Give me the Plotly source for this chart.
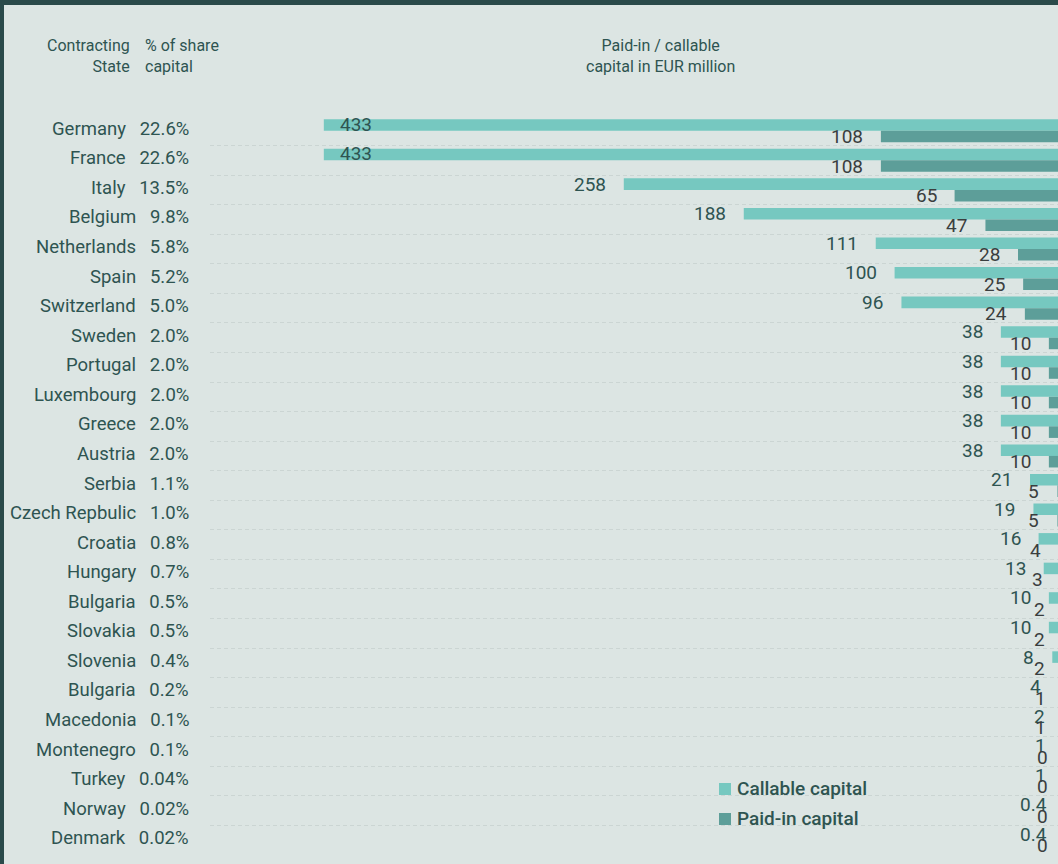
import plotly.graph_objects as go

countries = ["Germany", "France", "Italy", "Belgium", "Netherlands", "Spain", "Switzerland",
             "Sweden", "Portugal", "Luxembourg", "Greece", "Austria", "Serbia", "Czech Repbulic",
             "Croatia", "Hungary", "Bulgaria", "Slovakia", "Slovenia", "Bulgaria", "Macedonia",
             "Montenegro", "Turkey", "Norway", "Denmark"]
share_pct = ["22.6%", "22.6%", "13.5%", "9.8%", "5.8%", "5.2%", "5.0%", "2.0%", "2.0%", "2.0%",
             "2.0%", "2.0%", "1.1%", "1.0%", "0.8%", "0.7%", "0.5%", "0.5%", "0.4%", "0.2%",
             "0.1%", "0.1%", "0.04%", "0.02%", "0.02%"]
callable_cap = [433, 433, 258, 188, 111, 100, 96, 38, 38, 38, 38, 38, 21, 19, 16, 13, 10, 10, 8,
                4, 2, 1, 1, 0.4, 0.4]
paid_in_cap = [108, 108, 65, 47, 28, 25, 24, 10, 10, 10, 10, 10, 5, 5, 4, 3, 2, 2, 2, 1, 1, 0, 0,
               0, 0]

BG = "#dce5e3"
DARK = "#2a4a4a"
C_CALL = "#76c8c0"
C_PAID = "#5d9e99"
TXT = "#2e5451"
TXT_PAID = "#3a3e3e"
FONT = "Roboto"

W, H = 1058, 864
X_RANGE = [499.4, 4.67]          # reversed: bars grow leftwards from beyond the right edge
X_DOM = [210 / W, 1.0]
Y_DOM = [1 - 855 / H, 1 - 116 / H]
n = len(countries)
ypos = list(range(n))

px_per_unit = (X_DOM[1] - X_DOM[0]) * W / (X_RANGE[0] - X_RANGE[1])
GAP = 16 / px_per_unit            # label gap in data units
row_px = (Y_DOM[1] - Y_DOM[0]) * H / n
BAR_SHIFT = row_px * 0.195

fig = go.Figure()
fig.add_trace(go.Bar(y=ypos, x=callable_cap, orientation="h", name="Callable capital",
                     marker=dict(color=C_CALL, line=dict(width=0)), showlegend=False))
fig.add_trace(go.Bar(y=ypos, x=paid_in_cap, orientation="h", name="Paid-in capital",
                     marker=dict(color=C_PAID, line=dict(width=0)), showlegend=False))

def fmt(v):
    return str(int(v)) if float(v).is_integer() else str(v)

NB = "\u00a0"
ann = []
for i in range(n):
    ann.append(dict(xref="paper", yref="y", x=191 / W, y=i, yshift=2, xanchor="right",
                    text=countries[i] + NB * 3 + share_pct[i], showarrow=False,
                    font=dict(family=FONT, size=18.5, color=TXT)))
    v = callable_cap[i]
    if v > 400:
        ann.append(dict(xref="x", yref="y", x=v, y=i, yshift=BAR_SHIFT + 1, xshift=14, xanchor="left",
                        text=fmt(v), showarrow=False, font=dict(family=FONT, size=19, color=TXT)))
    else:
        ann.append(dict(xref="x", yref="y", x=v + GAP, y=i, yshift=BAR_SHIFT, xanchor="right",
                        text=fmt(v), showarrow=False, font=dict(family=FONT, size=19, color=TXT)))
    p = paid_in_cap[i]
    ann.append(dict(xref="x", yref="y", x=p + GAP, y=i, yshift=-BAR_SHIFT, xanchor="right",
                    text=fmt(p), showarrow=False, font=dict(family=FONT, size=19, color=TXT_PAID)))

# headers
hdr = dict(family=FONT, size=16, color=TXT)
ann.append(dict(xref="paper", yref="paper", x=132 / W, y=1 - 34 / H, xanchor="right", yanchor="top",
                align="right", text="Contracting<br>State", showarrow=False, font=hdr))
ann.append(dict(xref="paper", yref="paper", x=143 / W, y=1 - 34 / H, xanchor="left", yanchor="top",
                align="left", text="% of share<br>capital", showarrow=False, font=hdr))
ann.append(dict(xref="paper", yref="paper", x=660 / W, y=1 - 34 / H, xanchor="center", yanchor="top",
                align="center", text="Paid-in / callable<br>capital in EUR million", showarrow=False, font=hdr))

# legend
leg = [("Callable capital", C_CALL, 789), ("Paid-in capital", C_PAID, 819)]
shapes = [
    dict(type="rect", xref="paper", yref="paper", x0=0, x1=1, y0=1 - 5 / H, y1=1,
         fillcolor=DARK, line=dict(width=0), layer="above"),
    dict(type="rect", xref="paper", yref="paper", x0=0, x1=4 / W, y0=0, y1=1,
         fillcolor=DARK, line=dict(width=0), layer="above"),
]
for name, col, yc in leg:
    shapes.append(dict(type="rect", xref="paper", yref="paper", x0=719 / W, x1=731 / W,
                       y0=1 - (yc + 6) / H, y1=1 - (yc - 6) / H, fillcolor=col, line=dict(width=0)))
    ann.append(dict(xref="paper", yref="paper", x=735 / W, y=1 - (yc - 1) / H, xanchor="left",
                    yanchor="middle", text=name, showarrow=False,
                    font=dict(family=FONT, size=19, color=TXT, weight=500)))

fig.update_layout(
    width=W, height=H, margin=dict(l=0, r=0, t=0, b=0),
    paper_bgcolor=BG, plot_bgcolor=BG,
    barmode="group", bargap=0.22, bargroupgap=0,
    annotations=ann, shapes=shapes,
    xaxis=dict(range=X_RANGE, domain=X_DOM, showgrid=False, zeroline=False, showticklabels=False,
               ticks="", showline=False, automargin=False, fixedrange=True),
    yaxis=dict(range=[n - 0.5, -0.5], domain=Y_DOM, tickvals=[k - 0.5 for k in range(n + 1)],
               showgrid=True, gridcolor="#cbd5d3", griddash="4px,3px", gridwidth=1,
               zeroline=False, showticklabels=False, ticks="", showline=False, automargin=False,
               fixedrange=True),
)

fig.write_html("out.html")
